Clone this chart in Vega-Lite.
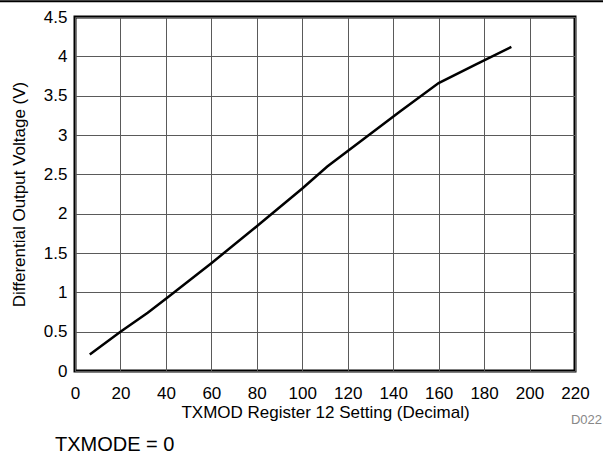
{
  "$schema": "https://vega.github.io/schema/vega-lite/v6.json",
  "width": 500,
  "height": 354,
  "autosize": "none",
  "padding": {"left": 75, "top": 17, "right": 28, "bottom": 87},
  "background": "white",
  "config": {
    "font": "Liberation Sans",
    "view": {"stroke": "black", "strokeWidth": 3},
    "axis": {
      "labelFont": "Liberation Sans",
      "titleFont": "Liberation Sans",
      "labelColor": "black",
      "titleColor": "black",
      "labelFontSize": 17,
      "titleFontSize": 17,
      "titleFontWeight": "normal",
      "labelOverlap": false,
      "labelFlush": false,
      "domain": false,
      "ticks": false,
      "gridColor": "#5a5a5a",
      "gridOpacity": 1,
      "gridWidth": 1
    }
  },
  "datasets": {
    "curve": [
      {"setting": 6.5, "voltage": 0.21},
      {"setting": 20, "voltage": 0.5},
      {"setting": 32, "voltage": 0.74},
      {"setting": 41, "voltage": 0.94},
      {"setting": 60, "voltage": 1.37},
      {"setting": 80, "voltage": 1.84},
      {"setting": 100, "voltage": 2.32},
      {"setting": 111, "voltage": 2.6},
      {"setting": 127, "voltage": 2.95},
      {"setting": 143, "voltage": 3.3},
      {"setting": 160, "voltage": 3.66},
      {"setting": 176, "voltage": 3.89},
      {"setting": 192, "voltage": 4.12}
    ],
    "notes": [
      {"setting": 231.9, "voltage": -0.623, "label": "D022", "kind": "code"},
      {"setting": -8.8, "voltage": -0.945, "label": "TXMODE = 0", "kind": "cond"}
    ],
    "topline": [{"setting": -33, "setting2": 232.5, "voltage": 4.70}]
  },
  "encoding": {
    "x": {
      "field": "setting",
      "type": "quantitative",
      "scale": {"domain": [0, 220], "nice": false, "zero": false},
      "axis": {"values": [0,20,40,60,80,100,120,140,160,180,200,220], "title": "TXMOD Register 12 Setting (Decimal)", "labelPadding": 14, "titlePadding": 3, "grid": true}
    },
    "y": {
      "field": "voltage",
      "type": "quantitative",
      "scale": {"domain": [0, 4.5], "nice": false, "zero": false},
      "axis": {"values": [0,0.5,1,1.5,2,2.5,3,3.5,4,4.5], "format": ".1~f", "title": "Differential Output Voltage (V)", "labelPadding": 8, "titlePadding": 15, "grid": true}
    }
  },
  "layer": [
    {
      "data": {"name": "curve"},
      "mark": {"type": "line", "color": "black", "strokeWidth": 2.5}
    },
    {
      "data": {"name": "topline"},
      "mark": {"type": "rule", "color": "black", "strokeWidth": 2, "clip": false},
      "encoding": {
        "x2": {"field": "setting2"}
      }
    },
    {
      "data": {"name": "notes"},
      "transform": [{"filter": "datum.kind === 'code'"}],
      "mark": {"type": "text", "align": "right", "baseline": "middle", "fontSize": 13, "color": "#888888", "font": "Liberation Sans"},
      "encoding": {
        "text": {"field": "label"}
      }
    },
    {
      "data": {"name": "notes"},
      "transform": [{"filter": "datum.kind === 'cond'"}],
      "mark": {"type": "text", "align": "left", "baseline": "middle", "fontSize": 20, "color": "black", "font": "Liberation Sans"},
      "encoding": {
        "text": {"field": "label"}
      }
    }
  ]
}
